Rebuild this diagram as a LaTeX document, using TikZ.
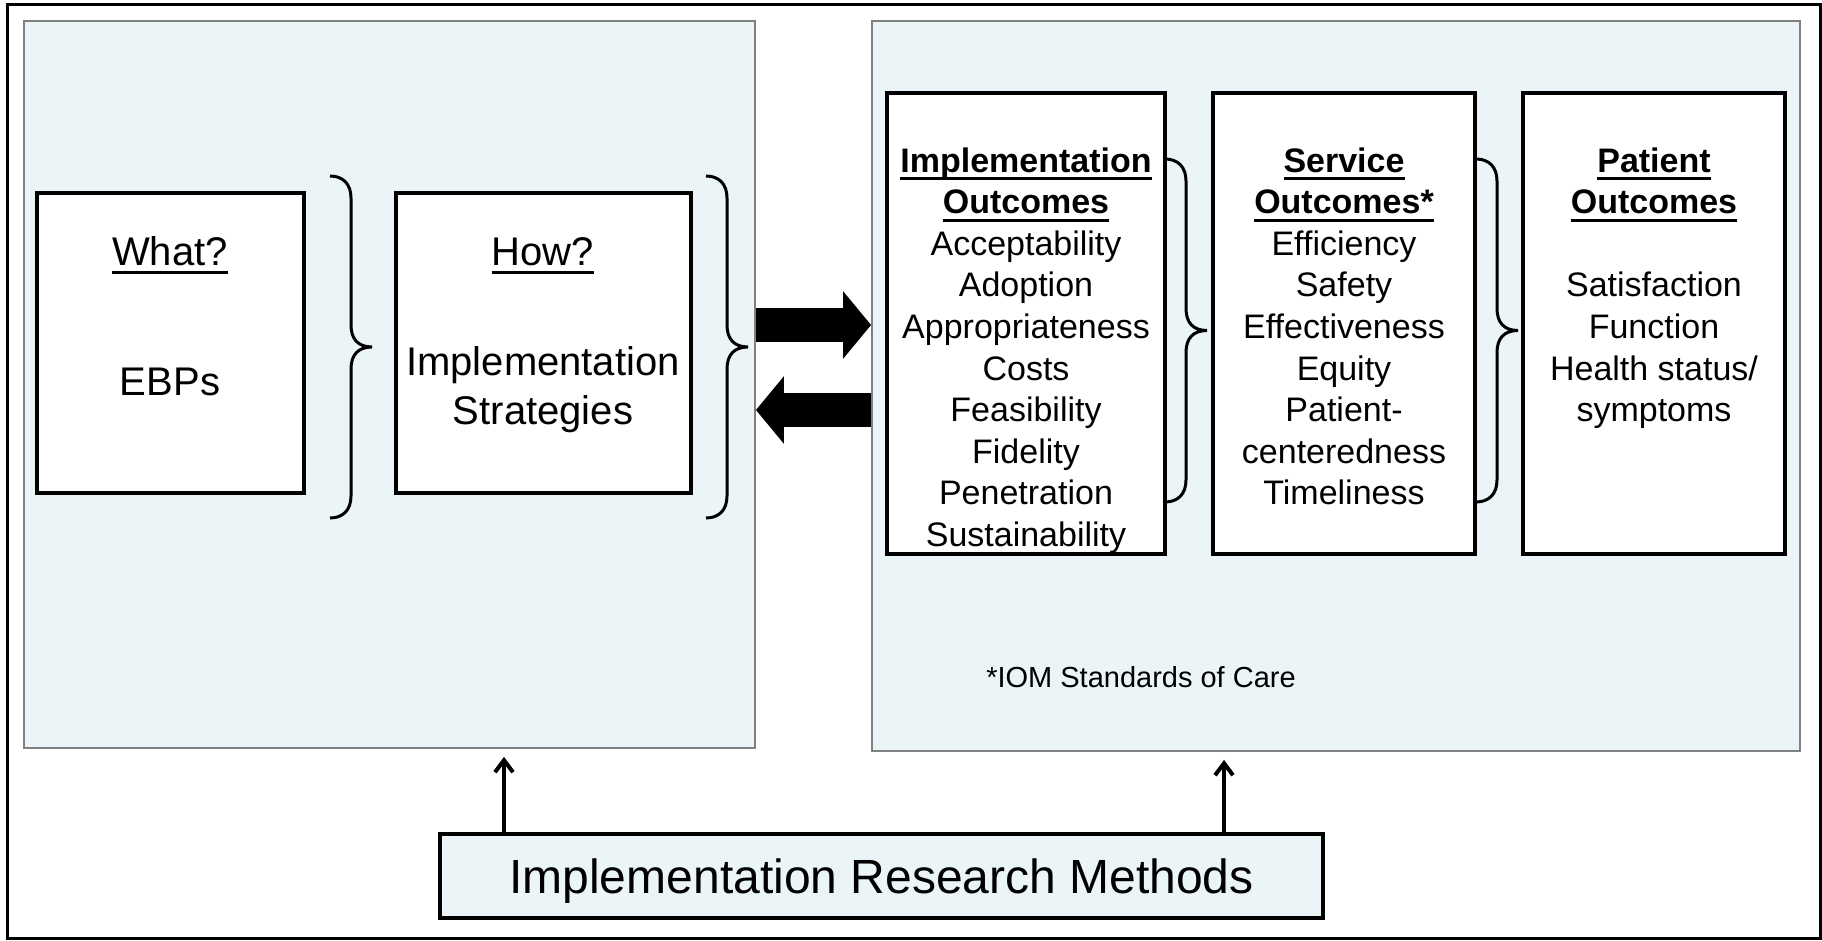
\documentclass[tikz,border=0pt]{standalone}
\usepackage{fontspec}
\setmainfont{Liberation Sans}
\usetikzlibrary{arrows.meta}
\definecolor{panelfill}{RGB}{235,245,247}
\definecolor{panelline}{RGB}{128,128,128}
\newcommand{\ulword}[1]{\leavevmode\setbox0=\hbox{#1}\rlap{\rule[-4pt]{\wd0}{1.4pt}}\box0}
\tikzset{
  panel/.style={draw=panelline, line width=0.9pt, fill=panelfill, inner sep=0pt},
  box/.style={draw=black, line width=1.6pt, fill=white, inner sep=0pt},
  bigtext/.style={font=\fontsize{20pt}{24.5pt}\selectfont, align=center, inner sep=0pt},
  listtext/.style={font=\fontsize{17pt}{20.8pt}\selectfont, align=center, inner sep=0pt, anchor=north},
  bracket/.style={line width=1.5pt},
  blockarrow/.style={line width=17pt, -{Triangle[length=14pt,width=33pt]}},
  uparrow/.style={line width=2pt, -{Straight Barb[length=6pt,width=9pt]}, shorten >=4pt}
}
\begin{document}
\begin{tikzpicture}[x=0.5pt,y=-0.5pt]
\useasboundingbox (0,0) rectangle (1822,941);
\draw [line width=1.5pt] (7,5) rectangle (1820,938);
%% panels
\node (lpanel) at (389.5,384.5) [panel, minimum width=365.5pt, minimum height=363.5pt] {};
\node (rpanel) at (1336,386) [panel, minimum width=464pt, minimum height=365pt] {};
%% left side
\node (ebp) at (170.5,343) [box, minimum width=133.5pt, minimum height=150pt] {};
\node (how) at (543.5,343) [box, minimum width=147.5pt, minimum height=150pt] {};
\node (whatlbl) at (170,266) [bigtext, anchor=base] {\ulword{What?}};
\node (ebplbl) at (170,396) [bigtext, anchor=base] {EBPs};
\node (howlbl) at (543,266) [bigtext, anchor=base] {\ulword{How?}};
\node (stratlbl) at (543,346) [bigtext, anchor=north] {Implementation\\Strategies};
%% outcomes
\node (impl) at (1026,323.5) [box, minimum width=139pt, minimum height=230.5pt] {};
\node (serv) at (1344,323.5) [box, minimum width=131pt, minimum height=230.5pt] {};
\node (pat) at (1654,323.5) [box, minimum width=131pt, minimum height=230.5pt] {};
\node (impllbl) at (1026,147) [listtext] {\ulword{\textbf{Implementation}}\\\ulword{\textbf{Outcomes}}\\
  Acceptability\\Adoption\\Appropriateness\\Costs\\Feasibility\\Fidelity\\Penetration\\Sustainability};
\node (servlbl) at (1344,147) [listtext] {\ulword{\textbf{Service}}\\\ulword{\textbf{Outcomes*}}\\
  Efficiency\\Safety\\Effectiveness\\Equity\\Patient-\\centeredness\\Timeliness};
\node (patlbl) at (1654,147) [listtext] {\ulword{\textbf{Patient}}\\\ulword{\textbf{Outcomes}}\\[20.8pt]
  Satisfaction\\Function\\Health status/\\symptoms};
\node (iom) at (1141,677) [font=\fontsize{14.5pt}{17pt}\selectfont] {*IOM Standards of Care};
%% braces
\foreach \bx/\ta/\tb in {330/176/518, 706/176/518, 1165/159/502, 1476/159/502}{
  \pgfmathsetmacro\bm{(\ta+\tb)/2}
  \draw [bracket] (\bx,\ta) .. controls (\bx+13,\ta) and (\bx+21,\ta+8) .. (\bx+21,\ta+22)
    -- (\bx+21,\bm-22) .. controls (\bx+21,\bm-8) and (\bx+28,\bm) .. (\bx+42,\bm)
    .. controls (\bx+28,\bm) and (\bx+21,\bm+8) .. (\bx+21,\bm+22)
    -- (\bx+21,\tb-22) .. controls (\bx+21,\tb-8) and (\bx+13,\tb) .. (\bx,\tb);
}
%% arrows
\draw [blockarrow] (lpanel.east |- 0,325) -- (rpanel.west |- 0,325);
\draw [blockarrow] (rpanel.west |- 0,410) -- (lpanel.east |- 0,410);
\node (methods) at (881.5,876) [draw=black, line width=1.6pt, fill=panelfill, inner sep=0pt,
  minimum width=441.5pt, minimum height=42pt, text height=22pt, text depth=5pt,
  font=\fontsize{24pt}{28pt}\selectfont] {Implementation Research Methods};
\draw [uparrow] (methods.north -| 504,0) -- (lpanel.south -| 504,0);
\draw [uparrow] (methods.north -| 1224,0) -- (rpanel.south -| 1224,0);
\end{tikzpicture}
\end{document}
